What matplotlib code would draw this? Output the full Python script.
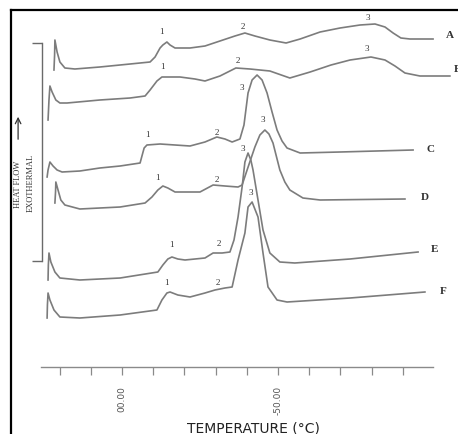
import matplotlib
matplotlib.use('Agg')
import matplotlib.pyplot as plt
from matplotlib.lines import Line2D


# -----------------------------------------------------------------------------
# DSC traces (temperature in °C, heat flow in arbitrary units,
# each trace already shifted up by its own offset)
# -----------------------------------------------------------------------------
A_T = [-121.8, -121.6, -121.5, -120.8, -119.9, -118.3, -115.1, -107.1, -97.4, -91.0,
       -89.4, -87.8, -86.9, -85.6, -84.6, -83.0, -78.2, -73.4, -68.6, -63.8,
       -60.6, -57.4, -52.6, -47.4, -42.9, -36.5, -30.1, -23.7, -18.9, -15.7,
       -13.1, -10.6, -7.7, -0.3]
A_H = [36.4, 37.9, 39.4, 38.2, 37.2, 36.6, 36.5, 36.7, 37.0, 37.2,
       37.7, 38.6, 38.9, 39.2, 38.9, 38.6, 38.6, 38.8, 39.3, 39.8,
       40.1, 39.8, 39.4, 39.1, 39.5, 40.2, 40.6, 40.9, 41.0, 40.7,
       40.1, 39.6, 39.5, 39.5]

B_T = [-123.7, -123.4, -123.1, -122.4, -121.2, -119.9, -117.6, -107.1, -97.4, -92.6,
       -91.0, -88.8, -87.2, -81.4, -76.6, -73.4, -68.6, -63.5, -59.0, -52.6,
       -46.2, -39.7, -33.0, -26.9, -20.2, -15.7, -12.5, -9.3, -4.5, 5.1]
B_H = [31.4, 33.4, 34.8, 34.2, 33.4, 33.1, 33.1, 33.4, 33.6, 33.8,
       34.4, 35.3, 35.7, 35.7, 35.5, 35.3, 35.8, 36.6, 36.5, 36.3,
       35.6, 36.2, 36.9, 37.4, 37.7, 37.4, 36.8, 36.1, 35.8, 35.8]

C_T = [-124.0, -123.7, -123.1, -122.1, -120.8, -119.2, -113.5, -107.1, -100.6, -94.2,
       -93.6, -92.9, -92.0, -87.8, -83.0, -78.2, -73.4, -69.6, -67.0, -64.7,
       -62.2, -60.9, -59.6, -58.3, -56.7, -55.1, -53.5, -51.9, -50.3, -48.7,
       -47.1, -42.9, -30.1, -6.7]
C_H = [25.7, 26.4, 27.2, 26.8, 26.4, 26.2, 26.3, 26.6, 26.8, 27.1,
       27.8, 28.6, 28.9, 29.0, 28.9, 28.8, 29.2, 29.7, 29.5, 29.2,
       29.5, 30.9, 34.1, 35.4, 35.9, 35.4, 34.1, 32.2, 30.4, 29.3,
       28.6, 28.1, 28.2, 28.4]

D_T = [-121.5, -121.3, -121.2, -120.5, -119.6, -118.3, -113.5, -107.1, -100.6, -92.6,
       -90.4, -88.5, -86.9, -85.3, -83.0, -75.0, -70.8, -67.0, -62.8, -61.5,
       -59.9, -57.4, -55.8, -54.2, -52.9, -51.6, -49.4, -47.8, -46.2, -42.0,
       -36.5, -9.3]
D_H = [23.1, 24.2, 25.2, 24.4, 23.4, 22.9, 22.5, 22.6, 22.7, 23.1,
       23.7, 24.4, 24.8, 24.6, 24.2, 24.2, 24.9, 24.8, 24.7, 24.9,
       26.4, 28.7, 29.9, 30.4, 30.0, 29.1, 26.4, 25.2, 24.4, 23.6,
       23.4, 23.5]

E_T = [-123.7, -123.6, -123.4, -122.8, -121.5, -119.9, -113.5, -100.6, -88.5, -86.9,
       -85.3, -84.0, -82.1, -79.8, -73.4, -70.8, -67.9, -65.4, -64.1, -62.8,
       -61.5, -60.6, -59.6, -58.7, -58.0, -56.4, -54.8, -52.6, -49.4, -44.6,
       -26.9, -5.1]
E_H = [15.4, 16.9, 18.1, 17.2, 16.2, 15.6, 15.4, 15.6, 16.2, 16.9,
       17.5, 17.7, 17.5, 17.4, 17.6, 18.1, 18.1, 18.2, 19.4, 21.7,
       24.7, 27.2, 28.1, 27.4, 26.4, 23.4, 20.4, 18.1, 17.2, 17.1,
       17.5, 18.2]

F_T = [-124.0, -123.9, -123.7, -123.1, -121.8, -119.9, -113.5, -100.6, -88.8, -87.2,
       -85.6, -84.6, -82.1, -78.2, -73.4, -70.2, -67.0, -64.7, -62.8, -60.6,
       -59.6, -58.3, -56.4, -54.8, -53.2, -50.3, -47.1, -26.9, -2.9]
F_H = [11.6, 12.9, 14.1, 13.4, 12.4, 11.7, 11.6, 11.9, 12.4, 13.4,
       14.1, 14.2, 13.9, 13.7, 14.1, 14.4, 14.6, 14.7, 17.4, 20.1,
       22.7, 23.2, 21.7, 18.1, 14.7, 13.4, 13.2, 13.6, 14.2]

curves = [(A_T, A_H), (B_T, B_H), (C_T, C_H), (D_T, D_H), (E_T, E_H), (F_T, F_H)]

# sample letters at the end of each trace
letters     = ['A', 'B', 'C', 'D', 'E', 'F']
letter_T    = [5.1, 6.4, -1.0, -2.9, 0.3, 2.9]
letter_H    = [39.9, 36.4, 28.5, 23.7, 18.5, 14.3]

# transition numbers 1, 2, 3 above each trace
peak_txt = ['1', '2', '3'] * 6
peak_T = [-87.2, -61.2, -21.2,
          -86.9, -62.8, -21.5,
          -91.7, -69.6, -61.5,
          -88.5, -69.6, -54.8,
          -84.0, -68.9, -61.2,
          -85.9, -69.2, -58.7]
peak_H = [40.2, 40.7, 41.6,
          36.7, 37.3, 38.5,
          29.9, 30.1, 34.6,
          25.6, 25.4, 31.4,
          18.9, 19.0, 28.5,
          15.1, 15.1, 24.1]

ticks       = [-120, -110, -100, -90, -80, -70, -60, -50, -40, -30, -20, -10]
tick_labels = ['', '', '00.00', '', '', '', '', '-50.00', '', '', '', '']


# -----------------------------------------------------------------------------
# figure
# -----------------------------------------------------------------------------
fig = plt.figure(figsize=(4.58, 4.34), dpi=100)
ax = fig.add_axes([0, 0, 1, 1])
ax.set_xlim(-139.1, 7.7)
ax.set_ylim(0, 43.4)
ax.patch.set_alpha(0)

gris = '#7c7c7c'
for T, H in curves:
    ax.plot(T, H, color=gris, lw=1.2, solid_joinstyle='round')

for s, t, h in zip(letters, letter_T, letter_H):
    ax.text(t, h, s, family='Liberation Serif', weight='bold', fontsize=8,
            color='#333333', ha='left' if s == 'B' else 'center', va='center')

for s, t, h in zip(peak_txt, peak_T, peak_H):
    ax.text(t, h, s, family='Liberation Serif', fontsize=6.5, color='#333333',
            ha='center', va='center')

# axe des températures
for side in ['top', 'right']:
    ax.spines[side].set_visible(False)
ax.spines['bottom'].set_position(('data', 6.7))
ax.spines['bottom'].set_bounds(-126.0, -0.3)
ax.spines['bottom'].set_color('#8a8a8a')
ax.spines['bottom'].set_linewidth(1.0)
ax.set_xticks(ticks)
ax.set_xticklabels(tick_labels, rotation=90, fontsize=6.5, color='#555555')
ax.tick_params(axis='x', direction='out', length=5.5, width=0.9, color='#8a8a8a', pad=8)

# crochet heat flow
ax.spines['left'].set_position(('data', -125.6))
ax.spines['left'].set_bounds(17.3, 39.1)
ax.spines['left'].set_color('#6a6a6a')
ax.spines['left'].set_linewidth(1.0)
ax.set_yticks([17.3, 39.1])
ax.set_yticklabels(['', ''])
ax.tick_params(axis='y', direction='out', length=7, width=1.0, color='#6a6a6a')

ax.annotate('', xy=(-133.3, 32.0), xytext=(-133.3, 29.2),
            arrowprops=dict(arrowstyle='->', color='#333333', lw=0.9))
ax.text(-133.3, 25.0, 'HEAT FLOW', rotation=90, family='Liberation Serif',
        fontsize=6, color='#333333', ha='center', va='center')
ax.text(-129.2, 25.1, 'EXOTHERMAL', rotation=90, family='Liberation Serif',
        fontsize=6, color='#333333', ha='center', va='center')

ax.text(-57.8, 0.2, 'TEMPERATURE (°C)', fontsize=10, color='#222222',
        ha='center', va='baseline')

# cadre
fig.add_artist(Line2D([11 / 458, 11 / 458], [0, 1 - 10 / 434], color='black', lw=1.6))
fig.add_artist(Line2D([11 / 458, 1], [1 - 10 / 434, 1 - 10 / 434], color='black', lw=1.6))

fig.savefig('out.png', dpi=100)
